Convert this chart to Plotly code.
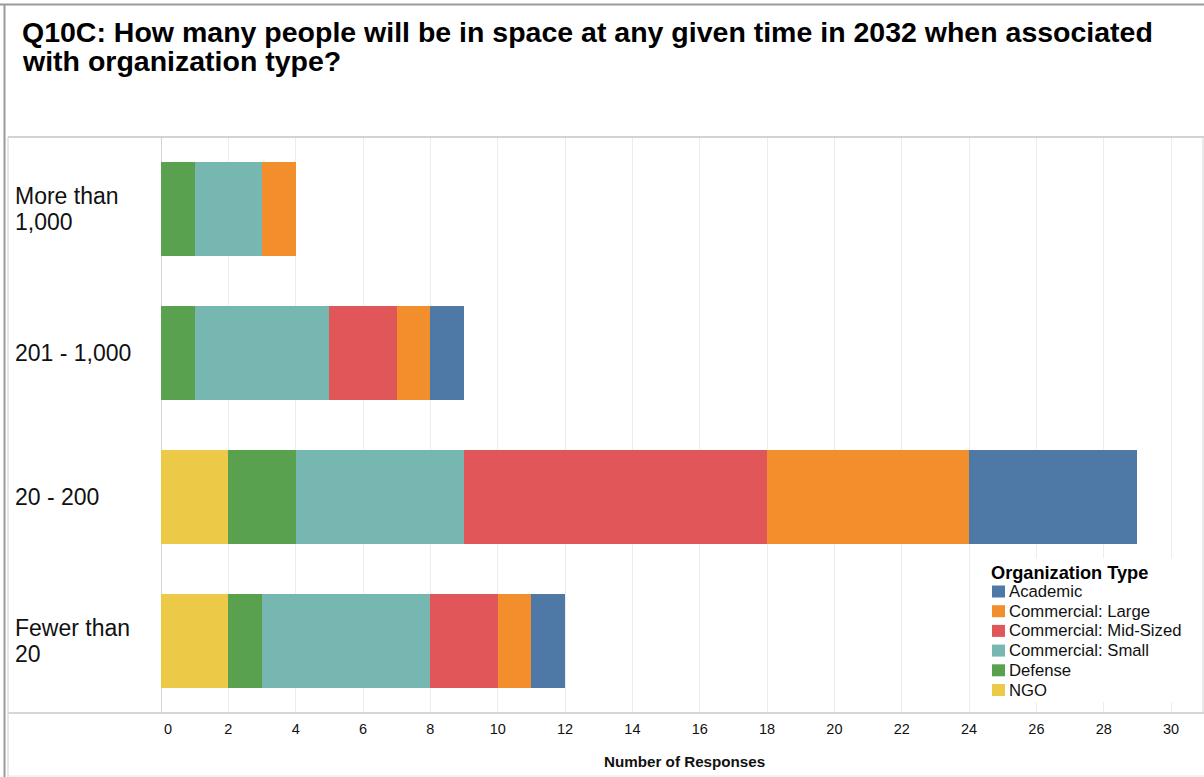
import plotly.graph_objects as go

categories = ["More than 1,000", "201 - 1,000", "20 - 200", "Fewer than 20"]
row_label_lines = [["More than", "1,000"], ["201 - 1,000"], ["20 - 200"], ["Fewer than", "20"]]

# stack order left -> right
series_names = ["NGO", "Defense", "Commercial: Small", "Commercial: Mid-Sized", "Commercial: Large", "Academic"]
ngo = [0, 0, 2, 2]
defense = [1, 1, 2, 1]
small = [2, 4, 5, 5]
mid = [0, 2, 9, 2]
large = [1, 1, 6, 1]
academic = [0, 1, 5, 1]
series_values = [ngo, defense, small, mid, large, academic]
colors = ["#EDC948", "#59A14F", "#76B7B2", "#E15759", "#F28E2B", "#4E79A7"]

tick_vals = list(range(0, 31, 2))
tick_text = [""] + [str(v) for v in tick_vals[1:]]   # "0" is drawn nudged right, as in the source

title_lines = ["Q10C: How many people will be in space at any given time in 2032 when associated",
               "with organization type?"]
legend_title = "Organization Type"

W, H = 1204, 777
L, R, T, B = 161, 1, 137, 64
PW, PH = W - L - R, H - T - B
FONT = "Arial, Liberation Sans, sans-serif"


def px(x):
    return (x - L) / PW


def py(y):
    return (H - B - y) / PH


fig = go.Figure()
for name, vals, col in zip(series_names, series_values, colors):
    fig.add_trace(go.Bar(
        y=categories, x=vals, name=name, orientation="h",
        marker=dict(color=col, line=dict(width=0)), showlegend=False,
    ))

annotations = []
# title
for i, line in enumerate(title_lines):
    annotations.append(dict(text="<b>" + line + "</b>", xref="paper", yref="paper",
                            x=px(20), y=py(32.5 + 28 * i), xanchor="left", yanchor="middle",
                            showarrow=False, font=dict(family=FONT, size=28.5, color="#000")))
# row labels
for cat, lines in zip(categories, row_label_lines):
    n = len(lines)
    for j, ln in enumerate(lines):
        shift = (n - 1) * 13 - j * 26
        annotations.append(dict(text=ln, xref="paper", yref="y", x=px(13), y=cat,
                                xanchor="left", yanchor="middle", yshift=shift, showarrow=False,
                                font=dict(family=FONT, size=23, color="#111")))
# zero tick label
annotations.append(dict(text=str(tick_vals[0]), xref="x", yref="paper", x=tick_vals[0], y=py(728.5),
                        xanchor="center", yanchor="middle", xshift=7, showarrow=False,
                        font=dict(family=FONT, size=14.5, color="#111")))
# axis title
annotations.append(dict(text="<b>Number of Responses</b>", xref="paper", yref="paper",
                        x=px(684), y=py(761), xanchor="center", yanchor="middle", showarrow=False,
                        font=dict(family=FONT, size=15.2, color="#111")))

shapes = []


def line(x0, y0, x1, y1, color, width):
    shapes.append(dict(type="line", xref="paper", yref="paper", x0=px(x0), y0=py(y0),
                       x1=px(x1), y1=py(y1), line=dict(color=color, width=width)))


line(0, 4.5, W, 4.5, "#9a9a9a", 2)
line(4.5, 4, 4.5, H, "#9a9a9a", 2)
line(8, 137, W, 137, "#c4c4c4", 1.5)
line(8, 137, 8, H, "#d0d0d0", 1)
line(8, 713, W, 713, "#d6d6d6", 2)
line(1203, 137, 1203, 713, "#d6d6d6", 1)
line(8, 776, W, 776, "#e4e4e4", 1)

# legend (drawn from the series names / colours, in reversed stack order)
shapes.append(dict(type="rect", xref="paper", yref="paper", x0=px(984), x1=px(1198),
                   y0=py(558), y1=py(702), fillcolor="white", line=dict(width=0), layer="above"))
annotations.append(dict(text="<b>" + legend_title + "</b>", xref="paper", yref="paper",
                        x=px(989), y=py(573), xanchor="left", yanchor="middle", showarrow=False,
                        font=dict(family=FONT, size=18.2, color="#000")))
for k, (name, col) in enumerate(zip(series_names[::-1], colors[::-1])):
    yc = 591.5 + 19.7 * k
    shapes.append(dict(type="rect", xref="paper", yref="paper", x0=px(992), x1=px(1005),
                       y0=py(yc - 6), y1=py(yc + 6), fillcolor=col, line=dict(width=0),
                       layer="above"))
    annotations.append(dict(text=name, xref="paper", yref="paper", x=px(1007), y=py(yc),
                            xanchor="left", yanchor="middle", showarrow=False,
                            font=dict(family=FONT, size=16.7, color="#111")))

fig.update_layout(
    width=W, height=H,
    margin=dict(l=L, r=R, t=T, b=B, pad=0),
    paper_bgcolor="white", plot_bgcolor="white",
    barmode="stack", bargap=0.347,
    font=dict(family=FONT, color="#111"),
    annotations=annotations, shapes=shapes,
    showlegend=False,
    xaxis=dict(range=[0, PW / 33.67], tickvals=tick_vals, ticktext=tick_text,
               showgrid=True, gridcolor="#ececec",
               gridwidth=1, zeroline=True, zerolinecolor="#d4d4d4", zerolinewidth=1,
               tickfont=dict(family=FONT, size=14.5, color="#111"), showline=False, ticks="",
               ticklabelstandoff=5),
    yaxis=dict(categoryorder="array", categoryarray=categories, autorange="reversed",
               showticklabels=False, showgrid=False, zeroline=False, showline=False, ticks=""),
)

fig.write_html("out.html", config={"displayModeBar": False},
               post_script="document.body.style.margin='0';document.body.style.overflow='hidden';")
